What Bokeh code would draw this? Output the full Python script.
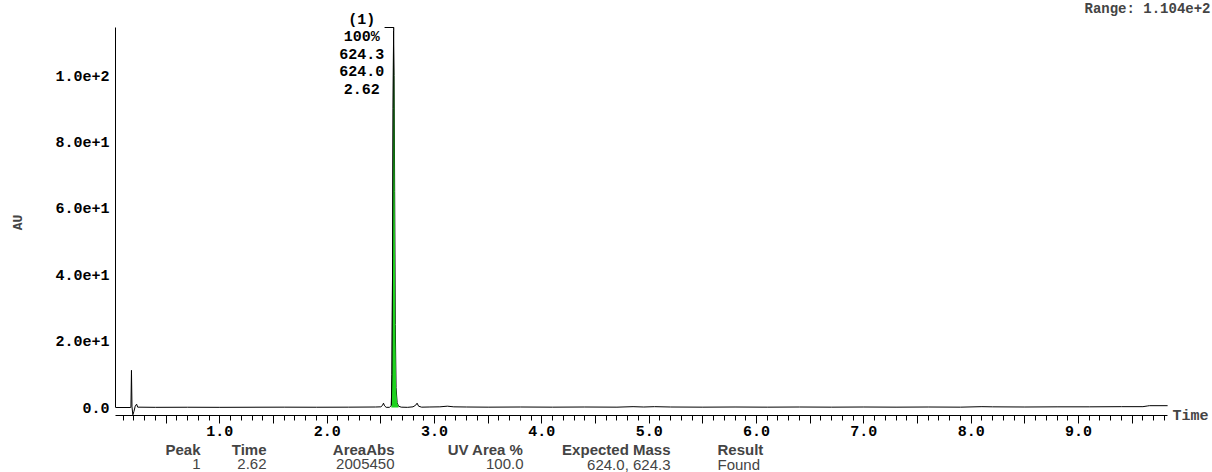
import math
from bokeh.plotting import figure
from bokeh.models import Label, FixedTicker, Range1d, LinearAxis
from bokeh.embed import file_html
from bokeh.resources import INLINE

# ---------------- data ----------------
time_min = [0.03, 0.165, 0.172, 0.177, 0.182, 0.190, 0.200, 0.212, 0.225, 0.235,
            0.40, 0.70, 1.00, 1.30, 1.60, 1.90, 2.20, 2.45, 2.50, 2.515, 2.525,
            2.535, 2.55, 2.58, 2.598, 2.604, 2.610, 2.615, 2.619, 2.624, 2.629,
            2.635, 2.642, 2.652, 2.665, 2.69, 2.75, 2.80, 2.825, 2.838, 2.852,
            2.88, 2.95, 3.05, 3.12, 3.18, 3.30, 3.50, 3.80, 4.10, 4.40, 4.70,
            4.85, 4.95, 5.05, 5.20, 5.50, 5.80, 6.10, 6.40, 6.70, 7.00, 7.30,
            7.60, 7.90, 8.10, 8.20, 8.50, 8.80, 9.10, 9.40, 9.60, 9.64, 9.66,
            9.83]
au = [0.00, 0.00, 0.05, 11.2, 0.20, -2.20, -1.20, 0.40, 1.00, 0.10,
      0.05, 0.08, 0.05, 0.08, 0.10, 0.08, 0.10, 0.15, 0.20, 0.60, 1.30,
      0.50, 0.05, 0.05, 0.60, 10.0, 45.0, 90.0, 113.5, 100.0, 65.0,
      25.0, 6.0, 1.50, 0.40, 0.10, 0.05, 0.20, 0.70, 1.30, 0.40,
      0.10, 0.15, 0.20, 0.40, 0.20, 0.15, 0.10, 0.15, 0.10, 0.15, 0.10,
      0.25, 0.15, 0.25, 0.15, 0.10, 0.15, 0.10, 0.15, 0.10, 0.15, 0.10,
      0.15, 0.10, 0.25, 0.20, 0.15, 0.20, 0.20, 0.25, 0.25, 0.45, 0.55,
      0.55]

peak_rt = 2.62
peak_apex_time = 2.619
peak_height = 113.5
fill_start, fill_end = 2.598, 2.665

x_ticks = [0.5, 1.0, 1.5, 2.0, 2.5, 3.0, 3.5, 4.0, 4.5, 5.0, 5.5, 6.0, 6.5,
           7.0, 7.5, 8.0, 8.5, 9.0, 9.5]
x_tick_labels = ["", "1.0", "", "2.0", "", "3.0", "", "4.0", "", "5.0", "",
                 "6.0", "", "7.0", "", "8.0", "", "9.0", ""]
x_minor = [round(0.1 * i, 1) for i in range(1, 99)]
y_ticks = [0, 20, 40, 60, 80, 100]
y_tick_labels = ["0.0", "2.0e+1", "4.0e+1", "6.0e+1", "8.0e+1", "1.0e+2"]

peak_label_lines = ["(1)", "100%", "624.3", "624.0", "2.62"]
table_headers = ["Peak", "Time", "AreaAbs", "UV Area %", "Expected Mass", "Result"]
table_values = ["1", "2.62", "2005450", "100.0", "624.0, 624.3", "Found"]
range_text = "Range: 1.104e+2"
x_title = "Time"
y_title = "AU"

# ---------------- layout (pixel <-> data mapping) ----------------
W, H = 1212, 472
PXX = 107.34          # px per minute
X0_PX = 111.96        # pixel column of t = 0
PXY = 3.32            # px per AU
Y0_PX = 407.0         # pixel row of AU = 0


def dx(px):
    return (px - X0_PX) / PXX


def dy(py):
    return (Y0_PX - py) / PXY


AXIS_LEFT_PX, AXIS_RIGHT_PX = 115, 1167
AXIS_TOP_PX, AXIS_BOTTOM_PX = 27, 415

MONO = "Liberation Mono"
SANS = "Liberation Sans"

p = figure(width=W, height=H, output_backend="svg", toolbar_location=None,
           x_range=Range1d(dx(0), dx(W)), y_range=Range1d(dy(H), dy(0)),
           x_axis_location=None, y_axis_location=None, min_border=0)
p.outline_line_color = None
p.xgrid.visible = False
p.ygrid.visible = False
p.background_fill_color = "white"
p.border_fill_color = "white"

# x axis (drawn at a fixed location inside the full-canvas frame)
xa = LinearAxis(fixed_location=dy(AXIS_BOTTOM_PX),
                bounds=(dx(AXIS_LEFT_PX), dx(AXIS_RIGHT_PX)))
xa.ticker = FixedTicker(ticks=x_ticks, minor_ticks=x_minor)
xa.major_label_overrides = {t: l for t, l in zip(x_ticks, x_tick_labels)}
xa.major_label_text_font = MONO
xa.major_label_text_font_style = "bold"
xa.major_label_text_font_size = "15px"
xa.major_label_text_color = "black"
xa.major_label_standoff = 2
xa.major_tick_in = 0
xa.major_tick_out = 8
xa.minor_tick_in = 0
xa.minor_tick_out = 5
xa.axis_line_color = "black"
xa.major_tick_line_color = "black"
xa.minor_tick_line_color = "black"
p.add_layout(xa, "below")

# y axis
ya = LinearAxis(fixed_location=dx(AXIS_LEFT_PX),
                bounds=(0, dy(AXIS_TOP_PX)))
ya.ticker = FixedTicker(ticks=y_ticks, minor_ticks=[])
ya.major_label_overrides = {t: l for t, l in zip(y_ticks, y_tick_labels)}
ya.major_label_text_font = MONO
ya.major_label_text_font_style = "bold"
ya.major_label_text_font_size = "15px"
ya.major_label_text_color = "black"
ya.major_label_standoff = 6
ya.major_tick_in = 0
ya.major_tick_out = 0
ya.minor_tick_line_color = None
ya.axis_line_color = "black"
p.add_layout(ya, "left")

# chromatogram trace
p.line(time_min, au, line_color="black", line_width=1)

# peak fill (drawn over the trace, as in the reference)
pf_t = [t for t in time_min if fill_start <= t <= fill_end]
pf_a = [a for t, a in zip(time_min, au) if fill_start <= t <= fill_end]
p.varea(x=pf_t, y1=[0] * len(pf_t), y2=pf_a, fill_color="#1ed21e")

# rising edge of the peak stays black
re_t = [t for t in pf_t if t <= peak_apex_time]
re_a = [a for t, a in zip(pf_t, pf_a) if t <= peak_apex_time]
p.line(re_t, re_a, line_color="black", line_width=1)

# peak bracket
top = dy(AXIS_TOP_PX)
p.line([peak_rt - 0.085, peak_rt, peak_rt], [top, top, peak_height],
       line_color="black", line_width=1.2)

# peak label stack
for txt, py in zip(peak_label_lines, [20, 36.5, 53, 70.5, 88]):
    p.add_layout(Label(x=peak_rt, y=dy(py), x_offset=-32, text=txt,
                       text_font=MONO, text_font_style="bold",
                       text_font_size="15px", text_align="center",
                       text_baseline="middle", text_color="black"))

# axis titles and range note
p.add_layout(Label(x=dx(1172), y=dy(416), text=x_title, text_font=MONO,
                   text_font_style="bold", text_font_size="15px",
                   text_align="left", text_baseline="middle"))
p.add_layout(Label(x=dx(18), y=dy(222), text=y_title, text_font=MONO,
                   text_font_style="bold", text_font_size="13px",
                   text_align="center", text_baseline="middle",
                   angle=math.pi / 2))
p.add_layout(Label(x=dx(1210), y=dy(8), text=range_text, text_font=MONO,
                   text_font_style="bold", text_font_size="14px",
                   text_align="right", text_baseline="middle"))

# results table
anchors = [(200, "right"), (266, "right"), (394, "right"), (523, "right"),
           (670, "right"), (717, "left")]
for (ax, al), h, v in zip(anchors, table_headers, table_values):
    p.add_layout(Label(x=dx(ax), y=dy(449), text=h, text_font=SANS,
                       text_font_style="bold", text_font_size="15px",
                       text_align=al, text_baseline="middle"))
    p.add_layout(Label(x=dx(ax), y=dy(463.5), text=v, text_font=SANS,
                       text_font_size="15px", text_align=al,
                       text_baseline="middle"))

open("out.html", "w").write(file_html(p, INLINE))
